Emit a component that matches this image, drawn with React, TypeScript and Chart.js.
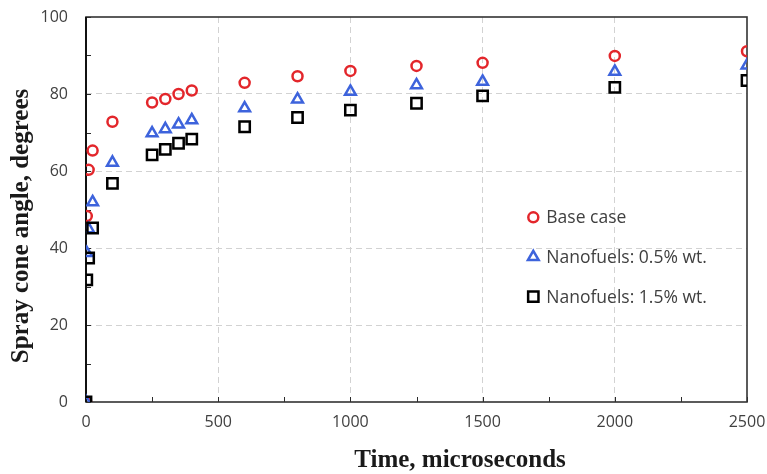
import { useEffect, useRef } from 'react';
import { Chart, registerables } from 'chart.js';

Chart.register(...registerables);

// ---- data ----
const times = [0, 3, 10, 25, 100, 250, 300, 350, 400, 600, 800, 1000, 1250, 1500, 2000, 2500];
const baseCase = [0, 48.3, 60.3, 65.3, 72.8, 77.8, 78.7, 80.0, 80.9, 82.9, 84.6, 86.0, 87.3, 88.1, 89.9, 91.1];
const nano05 = [0, 38.7, 44.9, 51.9, 62.2, 69.8, 70.9, 72.1, 73.2, 76.3, 78.6, 80.6, 82.3, 83.2, 85.8, 87.4];
const nano15 = [0, 31.7, 37.4, 45.2, 56.8, 64.2, 65.6, 67.2, 68.3, 71.5, 73.9, 75.8, 77.6, 79.5, 81.7, 83.5];
const seriesNames = ['Base case', 'Nanofuels: 0.5% wt.', 'Nanofuels: 1.5% wt.'];
const xTitle = 'Time, microseconds';
const yTitle = 'Spray cone angle, degrees';
const xMin = 0, xMax = 2500, xMinorStep = 250, xMajorStep = 500;
const yMin = 0, yMax = 100, yMinorStep = 10, yMajorStep = 20;

const RED = '#E3262B';
const BLUE = '#3D63DC';
const BLACK = '#000000';
const colors = [RED, BLUE, BLACK];
const styles = ['circle', 'triangle', 'rect'];
const radii = [5, 6.2, 7.3];

function drawMarker(ctx: CanvasRenderingContext2D, style: string, x: number, y: number, r: number, color: string) {
  ctx.save();
  ctx.strokeStyle = color;
  ctx.lineWidth = 2.5;
  ctx.beginPath();
  if (style === 'circle') {
    ctx.arc(x, y, r, 0, Math.PI * 2);
  } else if (style === 'triangle') {
    let rad = 0;
    ctx.moveTo(x + Math.sin(rad) * r, y - Math.cos(rad) * r);
    rad += (2 * Math.PI) / 3;
    ctx.lineTo(x + Math.sin(rad) * r, y - Math.cos(rad) * r);
    rad += (2 * Math.PI) / 3;
    ctx.lineTo(x + Math.sin(rad) * r, y - Math.cos(rad) * r);
    ctx.closePath();
  } else {
    const s = Math.SQRT1_2 * r;
    ctx.rect(x - s, y - s, 2 * s, 2 * s);
  }
  ctx.stroke();
  ctx.restore();
}

const framePlugin = {
  id: 'framePlugin',
  beforeDatasetsDraw(chart: any) {
    const { ctx, chartArea } = chart;
    const { left, right, top, bottom } = chartArea;
    const xs = chart.scales.x;
    const ys = chart.scales.y;
    ctx.save();
    ctx.strokeStyle = '#2b2b2b';
    ctx.lineWidth = 1;
    ctx.beginPath();
    for (let v = yMin; v <= yMax; v += yMinorStep) {
      const py = Math.round(ys.getPixelForValue(v)) + 0.5;
      ctx.moveTo(left, py);
      ctx.lineTo(left + 5, py);
    }
    for (let v = xMin; v <= xMax; v += xMinorStep) {
      const px = Math.round(xs.getPixelForValue(v)) + 0.5;
      ctx.moveTo(px, bottom);
      ctx.lineTo(px, bottom - 5);
    }
    ctx.stroke();
    ctx.strokeStyle = '#333333';
    ctx.lineWidth = 1.6;
    ctx.strokeRect(left, top, right - left, bottom - top);
    ctx.lineWidth = 2;
    ctx.strokeStyle = '#111111';
    ctx.beginPath();
    ctx.moveTo(left, top);
    ctx.lineTo(left, bottom);
    ctx.stroke();
    ctx.restore();
  },
  afterDraw(chart: any) {
    const { ctx, chartArea } = chart;
    ctx.save();
    const lx = chartArea.left + 447.3;
    const ly0 = chartArea.top + 200.3;
    ctx.font = '17.5px "Open Sans"';
    ctx.fillStyle = '#404040';
    ctx.textBaseline = 'middle';
    ctx.textAlign = 'left';
    seriesNames.forEach((name, i) => {
      const y = ly0 + i * 39.7;
      drawMarker(ctx, styles[i], lx, y, radii[i], colors[i]);
      ctx.fillText(name, lx + 13, y + 1);
    });
    ctx.fillStyle = '#1a1a1a';
    ctx.font = 'bold 25px "Liberation Serif"';
    ctx.textAlign = 'center';
    ctx.textBaseline = 'middle';
    ctx.fillText(xTitle, chartArea.left + 374, chartArea.bottom + 59);
    ctx.translate(chartArea.left - 64, chartArea.top + 209);
    ctx.rotate(-Math.PI / 2);
    ctx.fillText(yTitle, 0, 0);
    ctx.restore();
  },
};

export default function App() {
  const ref = useRef<HTMLCanvasElement | null>(null);
  useEffect(() => {
    document.documentElement.style.overflow = 'hidden';
    document.body.style.margin = '0';
    const canvas = ref.current!;
    const mk = (ys: number[]) => times.map((t, i) => ({ x: t, y: ys[i] }));
    const chart = new Chart(canvas, {
      type: 'scatter',
      data: {
        datasets: [baseCase, nano05, nano15].map((d, i) => ({
          label: seriesNames[i],
          data: mk(d),
          pointStyle: styles[i] as any,
          pointRadius: radii[i],
          pointHoverRadius: radii[i],
          pointBorderWidth: 2.5,
          borderColor: colors[i],
          backgroundColor: 'rgba(0,0,0,0)',
          showLine: false,
          order: 2 - i,
        })),
      },
      options: {
        animation: false,
        responsive: false,
        devicePixelRatio: 1,
        layout: { padding: { left: 8, top: 17, right: 20, bottom: 0 } },
        plugins: { legend: { display: false }, tooltip: { enabled: false } },
        scales: {
          x: {
            type: 'linear',
            min: xMin,
            max: xMax,
            afterFit: (s: any) => { s.height = 72; s.paddingLeft = 0; s.paddingRight = 0; },
            ticks: {
              stepSize: xMinorStep,
              autoSkip: false,
              maxRotation: 0,
              padding: 11,
              color: '#404040',
              font: { family: '"Open Sans"', size: 16 },
              callback: (v: any) => (Number(v) % xMajorStep === 0 ? String(v) : ''),
            },
            grid: {
              drawTicks: false,
              lineWidth: 1,
              color: (c: any) => {
                const v = c.tick?.value;
                return v !== undefined && v % xMajorStep === 0 && v > xMin && v < xMax ? '#d2d2d2' : 'rgba(0,0,0,0)';
              },
            },
            border: { display: false, dash: [6, 4] },
          },
          y: {
            type: 'linear',
            min: yMin,
            max: yMax,
            afterFit: (s: any) => { s.width = 78; s.paddingTop = 0; s.paddingBottom = 0; },
            ticks: {
              stepSize: yMinorStep,
              autoSkip: false,
              padding: 18,
              color: '#404040',
              font: { family: '"Open Sans"', size: 16 },
              callback: (v: any) => (Number(v) % yMajorStep === 0 ? String(v) : ''),
            },
            grid: {
              drawTicks: false,
              lineWidth: 1,
              color: (c: any) => {
                const v = c.tick?.value;
                return v !== undefined && v % yMajorStep === 0 && v > yMin && v < yMax ? '#d2d2d2' : 'rgba(0,0,0,0)';
              },
            },
            border: { display: false, dash: [6, 4] },
          },
        },
      },
      plugins: [framePlugin],
    });
    return () => chart.destroy();
  }, []);
  return <canvas ref={ref} width={767} height={474} style={{ display: 'block', width: 767, height: 474 }} />;
}
